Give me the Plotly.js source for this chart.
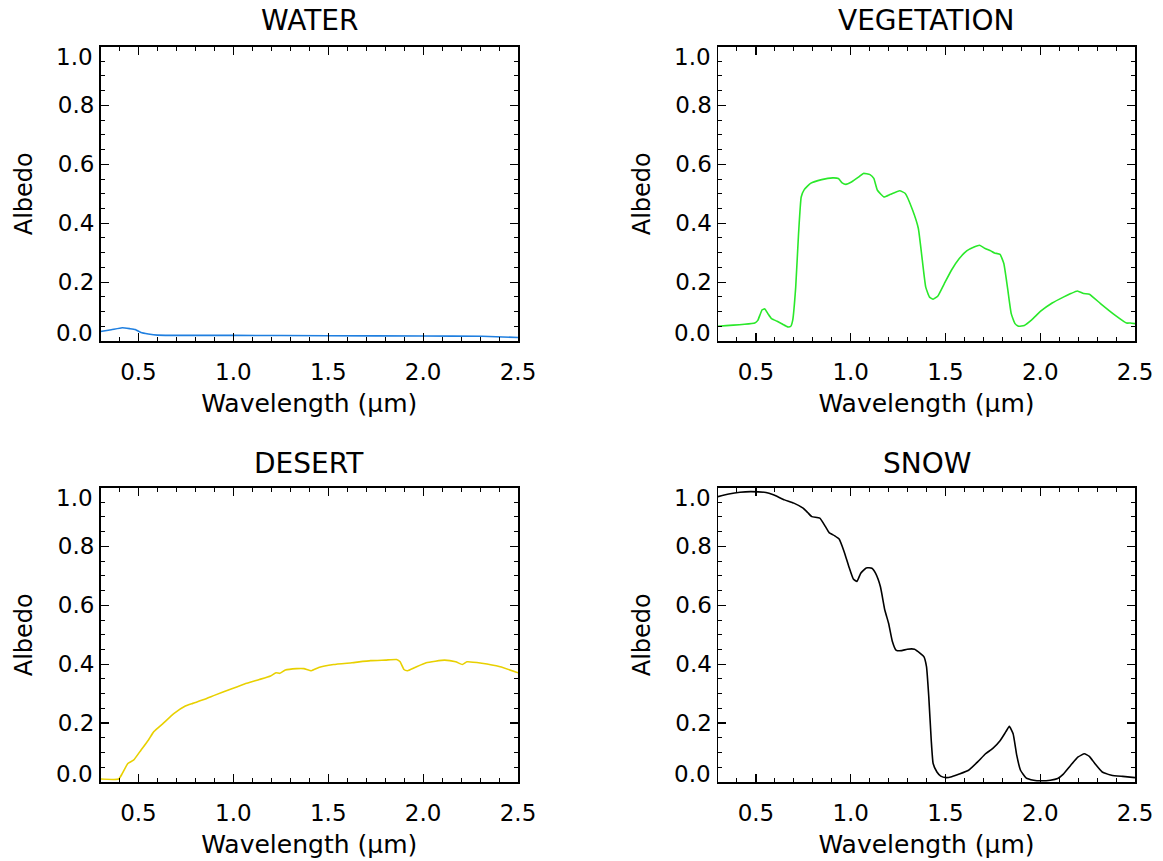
<!DOCTYPE html>
<html>
<head>
<meta charset="utf-8">
<script src="https://cdn.plot.ly/plotly-3.0.1.min.js"></script>
<style>html,body{margin:0;padding:0;background:#fff;}#chart{width:1163px;height:861px;}</style>
</head>
<body>
<div id="chart"></div>
<script>
// Panel titles
const panelTitles = ["WATER", "VEGETATION", "DESERT", "SNOW"];
const xTickVals = [0.5, 1.0, 1.5, 2.0, 2.5];
const xTickText = ["0.5", "1.0", "1.5", "2.0", "2.5"];
const yTickVals = [0.2, 0.4, 0.6, 0.8];
const yTickText = ["0.2", "0.4", "0.6", "0.8"];
const yEndVals = [0.0, 1.0];
const yEndText = ["0.0", "1.0"];

// WATER spectrum
const waterWl = [0.30, 0.357, 0.415, 0.454, 0.483, 0.513, 0.552, 0.60, 0.747, 1.0, 1.5, 2.0, 2.31, 2.5];
const waterAlb = [0.032, 0.038, 0.045, 0.042, 0.039, 0.029, 0.024, 0.020, 0.019, 0.019, 0.018, 0.017, 0.016, 0.012];

// VEGETATION spectrum
const vegWl = [0.30, 0.494, 0.51, 0.533, 0.547, 0.563, 0.582, 0.612, 0.641, 0.667, 0.684, 0.694, 0.71, 0.725, 0.739, 0.755, 0.788, 0.847, 0.906, 0.935, 0.955, 0.975, 1.004, 1.043, 1.067, 1.102, 1.122, 1.141, 1.176, 1.21, 1.259, 1.288, 1.327, 1.357, 1.376, 1.396, 1.416, 1.435, 1.459, 1.494, 1.533, 1.573, 1.612, 1.651, 1.68, 1.71, 1.739, 1.759, 1.788, 1.808, 1.827, 1.847, 1.867, 1.886, 1.916, 1.955, 2.004, 2.063, 2.122, 2.161, 2.196, 2.229, 2.259, 2.318, 2.396, 2.455, 2.475, 2.5];
const vegAlb = [0.050, 0.061, 0.070, 0.106, 0.109, 0.093, 0.076, 0.067, 0.057, 0.048, 0.050, 0.070, 0.183, 0.365, 0.489, 0.514, 0.535, 0.548, 0.554, 0.552, 0.537, 0.532, 0.540, 0.557, 0.569, 0.565, 0.552, 0.512, 0.489, 0.498, 0.510, 0.501, 0.444, 0.382, 0.285, 0.183, 0.149, 0.142, 0.152, 0.195, 0.242, 0.280, 0.306, 0.319, 0.325, 0.314, 0.306, 0.299, 0.294, 0.263, 0.183, 0.093, 0.059, 0.050, 0.053, 0.072, 0.102, 0.129, 0.149, 0.161, 0.170, 0.161, 0.159, 0.127, 0.087, 0.061, 0.061, 0.059];

// DESERT spectrum
const desertWl = [0.30, 0.396, 0.415, 0.444, 0.474, 0.513, 0.552, 0.581, 0.63, 0.688, 0.747, 0.786, 0.845, 0.903, 0.981, 1.059, 1.137, 1.196, 1.225, 1.245, 1.274, 1.333, 1.372, 1.411, 1.45, 1.528, 1.625, 1.723, 1.801, 1.86, 1.879, 1.899, 1.918, 1.957, 2.016, 2.113, 2.172, 2.207, 2.231, 2.309, 2.406, 2.5];
const desertAlb = [0.010, 0.010, 0.029, 0.063, 0.074, 0.108, 0.142, 0.171, 0.199, 0.233, 0.258, 0.267, 0.280, 0.295, 0.314, 0.333, 0.348, 0.360, 0.371, 0.369, 0.380, 0.385, 0.385, 0.378, 0.389, 0.399, 0.405, 0.412, 0.414, 0.416, 0.408, 0.382, 0.378, 0.389, 0.405, 0.414, 0.408, 0.399, 0.408, 0.403, 0.391, 0.371];

// SNOW spectrum
const snowWl = [0.30, 0.357, 0.416, 0.475, 0.553, 0.592, 0.651, 0.70, 0.749, 0.773, 0.795, 0.837, 0.867, 0.886, 0.916, 0.939, 0.965, 0.99, 1.014, 1.033, 1.053, 1.082, 1.112, 1.131, 1.157, 1.18, 1.20, 1.22, 1.239, 1.269, 1.298, 1.337, 1.367, 1.386, 1.40, 1.412, 1.425, 1.435, 1.455, 1.475, 1.504, 1.533, 1.573, 1.622, 1.671, 1.71, 1.75, 1.788, 1.818, 1.837, 1.857, 1.876, 1.896, 1.925, 1.965, 2.004, 2.053, 2.092, 2.122, 2.161, 2.20, 2.233, 2.259, 2.288, 2.327, 2.376, 2.435, 2.5];
const snowAlb = [0.969, 0.978, 0.984, 0.986, 0.983, 0.975, 0.958, 0.947, 0.930, 0.915, 0.901, 0.896, 0.867, 0.847, 0.836, 0.825, 0.783, 0.732, 0.689, 0.681, 0.709, 0.727, 0.726, 0.709, 0.663, 0.584, 0.539, 0.477, 0.448, 0.446, 0.451, 0.451, 0.437, 0.426, 0.392, 0.290, 0.142, 0.063, 0.034, 0.020, 0.015, 0.018, 0.027, 0.040, 0.069, 0.095, 0.114, 0.140, 0.170, 0.189, 0.164, 0.091, 0.040, 0.014, 0.006, 0.004, 0.006, 0.012, 0.027, 0.057, 0.085, 0.096, 0.087, 0.063, 0.034, 0.023, 0.019, 0.015];

const lineColors = ["#1f7fe0", "#2ae82a", "#e8d000", "#000000"];
const FONT = "DejaVu Sans, Liberation Sans, sans-serif";

const series = [[waterWl, waterAlb], [vegWl, vegAlb], [desertWl, desertAlb], [snowWl, snowAlb]];
const W = 1163, H = 861;
const xDom = [[100.5 / W, 518 / W], [718 / W, 1135 / W]];
const yDomTop = [(H - 341) / H, (H - 46.5) / H];
const yDomBot = [(H - 782) / H, (H - 487.5) / H];
const sfx = i => (i === 0 ? "" : String(i + 1));

const traces = series.map((s, i) => ({
  x: s[0], y: s[1], type: "scatter", mode: "lines",
  line: {color: lineColors[i], width: 1.6, shape: "spline", smoothing: 0.4},
  xaxis: "x" + sfx(i), yaxis: "y" + sfx(i),
  showlegend: false, hoverinfo: "x+y"
}));

function xAxis(i) {
  return {
    domain: xDom[i % 2], anchor: "y" + sfx(i),
    range: [0.3, 2.5], tickvals: xTickVals, ticktext: xTickText,
    ticks: "inside", ticklen: 8, tickwidth: 1.2, tickcolor: "#000",
    ticklabelstandoff: 10,
    minor: {dtick: 0.1, tick0: 0.0, ticks: "inside", ticklen: 4, tickwidth: 1, tickcolor: "#000"},
    showline: true, linecolor: "#000", linewidth: 1.5, mirror: "ticks",
    showgrid: false, zeroline: false,
    tickfont: {family: FONT, size: 23, color: "#000"},
    title: {text: "Wavelength (μm)", font: {family: FONT, size: 25, color: "#000"}, standoff: 10}
  };
}
function yAxis(i) {
  return {
    domain: i < 2 ? yDomTop : yDomBot, anchor: "x" + sfx(i),
    range: [0, 1], tickvals: yTickVals, ticktext: yTickText,
    ticks: "inside", ticklen: 8, tickwidth: 1.2, tickcolor: "#000",
    minor: {dtick: 0.05, tick0: 0, ticks: "inside", ticklen: 4, tickwidth: 1, tickcolor: "#000"},
    showline: true, linecolor: "#000", linewidth: 1.5, mirror: "ticks",
    showgrid: false, zeroline: false,
    tickfont: {family: FONT, size: 23, color: "#000"},
    title: {text: "Albedo", font: {family: FONT, size: 24, color: "#000"}, standoff: 18}
  };
}

const annotations = [];
panelTitles.forEach((t, i) => {
  annotations.push({
    text: t, showarrow: false,
    xref: "x" + sfx(i) + " domain", yref: "y" + sfx(i) + " domain",
    x: 0.5, y: 1, xanchor: "center", yanchor: "middle", yshift: i < 2 ? 26 : 24,
    font: {family: FONT, size: 28, color: "#000"}
  });
  yEndVals.forEach((v, k) => {
    annotations.push({
      text: yEndText[k], showarrow: false,
      xref: "x" + sfx(i) + " domain", yref: "y" + sfx(i),
      x: 0, y: v, xanchor: "right", yanchor: "middle", xshift: -5,
      yshift: v === 1 ? -10 : 8,
      font: {family: FONT, size: 23, color: "#000"}
    });
  });
});

const layout = {
  width: W, height: H,
  margin: {l: 0, r: 0, t: 0, b: 0},
  paper_bgcolor: "#fff", plot_bgcolor: "#fff",
  font: {family: FONT, color: "#000"},
  annotations: annotations
};
for (let i = 0; i < 4; i++) {
  layout["xaxis" + sfx(i)] = xAxis(i);
  layout["yaxis" + sfx(i)] = yAxis(i);
}

Plotly.newPlot("chart", traces, layout, {displayModeBar: false, staticPlot: true});
</script>
</body>
</html>
